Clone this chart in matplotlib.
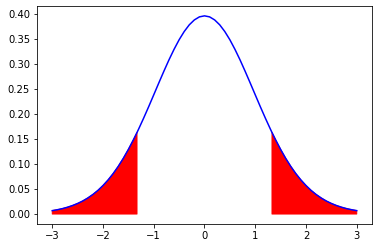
import numpy as np
import matplotlib

matplotlib.use("Agg")
import matplotlib.pyplot as mp

# density values, x = 0..3 in steps of 0.1 (curve is symmetric)
half_density = [
    0.3956, 0.3936, 0.3875, 0.3777, 0.3643, 0.3479, 0.3288, 0.3078,
    0.2852, 0.2618, 0.2380, 0.2143, 0.1913, 0.1692, 0.1484, 0.1290,
    0.1112, 0.0951, 0.0807, 0.0680, 0.0569, 0.0472, 0.0390, 0.0320,
    0.0260, 0.0211, 0.0170, 0.0136, 0.0108, 0.0086, 0.0068,
]
# tail cutoff and density there
cutoff = 1.33
cutoff_density = 0.1628

x_half = [round(0.1 * i, 1) for i in range(len(half_density))] + [cutoff]
y_half = half_density + [cutoff_density]

x = np.array([-v for v in x_half] + x_half[1:])
y = np.array(y_half + y_half[1:])
order = np.argsort(x)
x, y = x[order], y[order]

fig = mp.figure(figsize=(378 / 72, 248 / 72), dpi=72)
fig.subplots_adjust(left=0.098, right=0.984, top=0.976, bottom=0.097)
ax = fig.gca()

ax.plot(x, y, color="blue", lw=1.5)
ax.fill_between(x, y, 0, where=np.abs(x) >= cutoff - 1e-9, color="red")
ax.set_yticks(np.arange(0, 0.41, 0.05))
ax.yaxis.set_major_formatter(mp.FormatStrFormatter("%.2f"))

fig.savefig("out.png", dpi=72)
